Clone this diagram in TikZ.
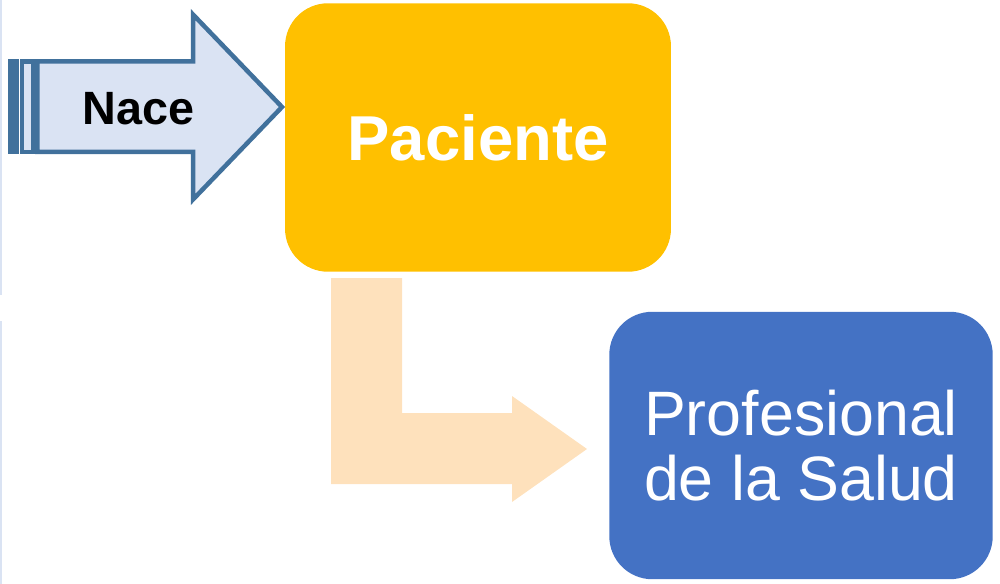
\documentclass[tikz,border=0pt]{standalone}
\usepackage{fontspec}
\setmainfont{Liberation Sans}
\definecolor{naceline}{HTML}{41719C}
\definecolor{nacefill}{HTML}{DAE3F3}
\definecolor{pacientefill}{HTML}{FFC000}
\definecolor{saludfill}{HTML}{4472C4}
\definecolor{pasofill}{HTML}{FEE1BC}
\begin{document}
\begin{tikzpicture}[x=0.02cm, y=-0.02cm, box/.style={rectangle, rounded corners=0.86cm, inner sep=0pt, text=white}]
	\useasboundingbox (0,0) rectangle (1000,584);
	\draw[nacefill, line width=0.04cm] (1,0) -- (1,295);
	\draw[nacefill, line width=0.04cm] (1,321) -- (1,584);

	\node[box, fill=pacientefill, minimum width=7.72cm, minimum height=5.37cm, font=\bfseries\fontsize{36.1}{40}\selectfont] (paciente) at (478,137.5) {Paciente};
	\node[box, fill=saludfill, minimum width=7.67cm, minimum height=5.35cm, align=center, font=\fontsize{35.7}{37.3}\selectfont] (salud) at (801,445.5) {Profesional\\de la Salud};

	\fill[pasofill] (331,278) -- (402,278) -- (402,413) -- (512,413) -- (512,396) -- (587,449) -- (512,502) -- (512,484) -- (331,484) -- cycle;

	\begin{scope}[draw=naceline, fill=nacefill, line width=0.09cm]
		\filldraw (37.25,61.5) -- (193,61.5) -- (193,14.5) -- (282,107) -- (193,199.5) -- (193,151.8) -- (37.25,151.8) -- cycle;
		\filldraw (9.75,61.5) rectangle (10.75,151.8);
		\filldraw (15.25,61.5) rectangle (17.25,151.8);
		\filldraw (21.75,61.5) rectangle (32.9,151.8);
	\end{scope}
	\node[font=\bfseries\fontsize{26.6}{30}\selectfont] (nace) at (138.5,108.5) {Nace};
\end{tikzpicture}
\end{document}
